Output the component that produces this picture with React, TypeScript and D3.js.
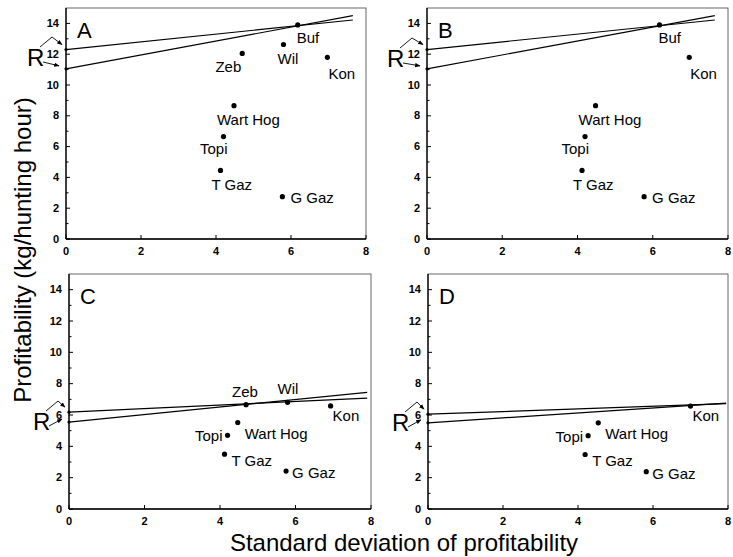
import React from 'react';
import * as d3 from 'd3';

// species values
const speciesTop = ['Buf', 'Wil', 'Zeb', 'Kon', 'Wart Hog', 'Topi', 'T Gaz', 'G Gaz'];
const sdTop = [6.18, 5.8, 4.7, 6.97, 4.48, 4.2, 4.12, 5.77];
const profTop = [13.9, 12.63, 12.05, 11.8, 8.66, 6.65, 4.45, 2.75];

const speciesB = ['Buf', 'Kon', 'Wart Hog', 'Topi', 'T Gaz', 'G Gaz'];

const speciesC = ['Zeb', 'Wil', 'Kon', 'Wart Hog', 'Topi', 'T Gaz', 'G Gaz'];
const sdC = [4.69, 5.79, 6.93, 4.47, 4.2, 4.12, 5.75];
const profC = [6.66, 6.81, 6.58, 5.52, 4.7, 3.5, 2.42];

const speciesD = ['Kon', 'Wart Hog', 'Topi', 'T Gaz', 'G Gaz'];
const sdD = [7.0, 4.54, 4.27, 4.19, 5.82];
const profD = [6.57, 5.5, 4.68, 3.48, 2.38];

// fitted lines: [x0, y0, x1, y1]
const linesTop = [
  [0, 12.3, 7.65, 14.22],
  [0, 11.05, 7.65, 14.5],
];
const linesC = [
  [0, 6.18, 7.9, 7.08],
  [0, 5.55, 7.9, 7.45],
];
const linesD = [
  [0, 6.05, 7.95, 6.72],
  [0, 5.5, 7.95, 6.76],
];

const xTicks = [0, 2, 4, 6, 8];
const yTicks = [0, 2, 4, 6, 8, 10, 12, 14];
const yMinor = [1, 3, 5, 7, 9, 11, 13];

// label placement [dx, dy, anchor]
const labelTop: Record<string, [number, number, string]> = {
  Buf: [-1, 18, 'start'],
  Wil: [-6, 20, 'start'],
  Zeb: [-1, 19, 'end'],
  Kon: [1, 22, 'start'],
  'Wart Hog': [-17, 19, 'start'],
  Topi: [4, 17, 'end'],
  'T Gaz': [-9, 20, 'start'],
  'G Gaz': [8, 6, 'start'],
};
const labelBottom: Record<string, [number, number, string]> = {
  Zeb: [-14, -8, 'start'],
  Wil: [-10, -8, 'start'],
  Kon: [2, 15, 'start'],
  'Wart Hog': [7, 16, 'start'],
  Topi: [-5, 6, 'end'],
  'T Gaz': [7, 12, 'start'],
  'G Gaz': [6, 7, 'start'],
};

const pick = (names: string[]) =>
  names.map((n) => {
    const i = speciesTop.indexOf(n);
    return { name: n, sd: sdTop[i], prof: profTop[i] };
  });
const zipData = (names: string[], sd: number[], prof: number[]) =>
  names.map((n, i) => ({ name: n, sd: sd[i], prof: prof[i] }));

const panels = [
  { letter: 'A', box: [66, 366, 8, 239], pts: pick(speciesTop), lines: linesTop, labels: labelTop, r: [27, 66] },
  { letter: 'B', box: [427, 728, 8, 239], pts: pick(speciesB), lines: linesTop, labels: labelTop, r: [387, 67] },
  { letter: 'C', box: [69, 371, 274, 509], pts: zipData(speciesC, sdC, profC), lines: linesC, labels: labelBottom, r: [33, 430] },
  { letter: 'D', box: [428, 728, 274, 509], pts: zipData(speciesD, sdD, profD), lines: linesD, labels: labelBottom, r: [392, 431] },
];

const font = 'Liberation Sans, Arial, Helvetica, sans-serif';

function Panel({ p }: { p: (typeof panels)[number] }) {
  const [x0, x1, y0, y1] = p.box;
  const x = d3.scaleLinear().domain([0, 8]).range([x0, x1]);
  const y = d3.scaleLinear().domain([0, 15]).range([y1, y0]);
  const line = d3.line<number[]>().x((d) => x(d[0])).y((d) => y(d[1]));
  const yUp = y(p.lines[0][1]);
  const yLo = y(p.lines[1][1]);
  const [rx, ry] = p.r;
  return (
    <g>
      <rect x={x0} y={y0} width={x1 - x0} height={y1 - y0} fill="none" stroke="#444" strokeWidth={0.8} />
      <line x1={x0} x2={x0} y1={y0} y2={y1} stroke="#000" strokeWidth={1.3} />
      <line x1={x0} x2={x1} y1={y1} y2={y1} stroke="#000" strokeWidth={1.3} />
      {yTicks.map((t) => (
        <g key={'y' + t}>
          <line x1={x0} x2={x0 + 4} y1={y(t)} y2={y(t)} stroke="#000" />
          <text x={x0 - 7} y={y(t) + 3.5} textAnchor="end" fontSize={11} fontWeight="bold" fontFamily={font}>
            {t}
          </text>
        </g>
      ))}
      {yMinor.map((t) => (
        <line key={'m' + t} x1={x0} x2={x0 + 2.5} y1={y(t)} y2={y(t)} stroke="#000" />
      ))}
      {xTicks.map((t) => (
        <g key={'x' + t}>
          <line x1={x(t)} x2={x(t)} y1={y1} y2={y1 - 4} stroke="#000" />
          <text x={x(t)} y={y1 + 16} textAnchor="middle" fontSize={11} fontWeight="bold" fontFamily={font}>
            {t}
          </text>
        </g>
      ))}
      {p.lines.map((l, i) => (
        <path key={'l' + i} d={line([[l[0], l[1]], [l[2], l[3]]]) || ''} stroke="#000" strokeWidth={1.2} fill="none" />
      ))}
      <circle cx={x0} cy={yUp} r={1.6} fill="#000" />
      <circle cx={x0} cy={yLo} r={1.6} fill="#000" />
      {p.pts.map((d) => {
        const [dx, dy, anchor] = p.labels[d.name];
        return (
          <g key={d.name}>
            <circle cx={x(d.sd)} cy={y(d.prof)} r={2.6} fill="#000" />
            <text
              x={x(d.sd) + dx}
              y={y(d.prof) + dy}
              textAnchor={anchor as any}
              fontSize={15}
              fontFamily={font}
            >
              {d.name}
            </text>
          </g>
        );
      })}
      <text x={x0 + 11} y={y0 + 30} fontSize={22} fontFamily={font}>
        {p.letter}
      </text>
      <text x={rx} y={ry} fontSize={24} fontFamily={font}>
        R
      </text>
      <path
        d={`M${rx + 13},${ry - 19} L${rx + 25},${ry - 29} L${x0 - 4},${yUp - 5}`}
        fill="none"
        stroke="#000"
        strokeWidth={0.9}
        markerEnd="url(#arrow)"
      />
      <path
        d={`M${rx + 16},${ry - 4} L${x0 - 7},${yLo - 3}`}
        fill="none"
        stroke="#000"
        strokeWidth={0.9}
        markerEnd="url(#arrow)"
      />
    </g>
  );
}

export default function App() {
  return (
    <svg width={733} height={557} style={{ position: 'absolute', left: 0, top: 0, background: '#fff' }}>
      <defs>
        <marker id="arrow" viewBox="0 0 10 10" refX={9} refY={5} markerWidth={6} markerHeight={6} orient="auto">
          <path d="M0,1 L10,5 L0,9 Z" fill="#000" />
        </marker>
      </defs>
      {panels.map((p) => (
        <Panel key={p.letter} p={p} />
      ))}
      <text
        transform="translate(31,250) rotate(-90)"
        textAnchor="middle"
        fontSize={24}
        fontFamily={font}
      >
        Profitability (kg/hunting hour)
      </text>
      <text x={404} y={551} textAnchor="middle" fontSize={24} fontFamily={font}>
        Standard deviation of profitability
      </text>
    </svg>
  );
}
